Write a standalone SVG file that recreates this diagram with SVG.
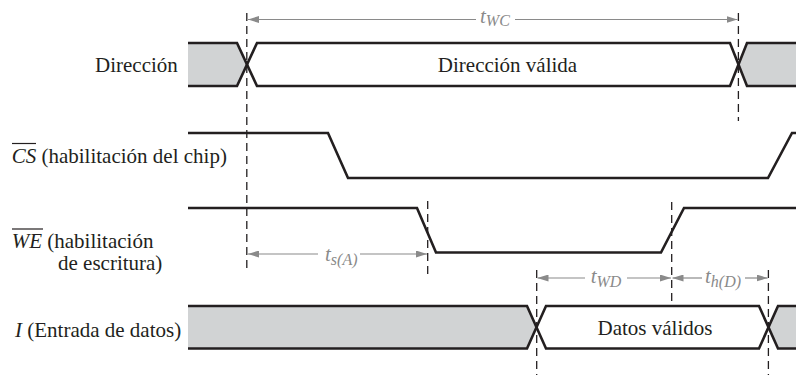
<svg xmlns="http://www.w3.org/2000/svg" width="796" height="375" viewBox="0 0 796 375">
<defs>
<marker id="ah" viewBox="0 0 11 7" refX="11" refY="3.5" markerWidth="11" markerHeight="7" markerUnits="userSpaceOnUse" orient="auto-start-reverse">
<path d="M0,0 L11,3.5 L0,7 Z" fill="#8a8a8a"/>
</marker>
</defs>
<style>
.sig{fill:none;stroke:#231f20;stroke-width:2.6;stroke-linejoin:miter}
.gray{fill:#d1d3d4;stroke:none}
.dash{fill:none;stroke:#231f20;stroke-width:1.3;stroke-dasharray:8 5}
.dim{fill:none;stroke:#8a8a8a;stroke-width:1.2}
.lbl{font-family:"Liberation Serif",serif;font-size:21px;fill:#231f20}
.tm{font-family:"Liberation Serif",serif;font-size:21px;fill:#8a8a8a;font-style:italic}
.sub{font-size:16px}
.ovl{stroke:#231f20;stroke-width:1.2}
</style>
<rect width="796" height="375" fill="#ffffff"/>

<g id="addr">
<polygon class="gray" points="188,43 237,43 247,64.5 237,86 188,86"/>
<polygon class="gray" points="796,43 747,43 738.5,64.5 747,86 796,86"/>
<path class="sig" d="M188,43 H237 L257,86 H730 L747,43 H796"/>
<path class="sig" d="M188,86 H237 L257,43 H730 L747,86 H796"/>
<text class="lbl" x="95" y="72">Dirección</text>
<text class="lbl" x="507.5" y="72" text-anchor="middle">Dirección válida</text>
</g>

<g id="cs">
<path class="sig" d="M188,133 H328 L348,178 H768 L792,133 H796"/>
<text class="lbl" x="11.7" y="163"><tspan font-style="italic">CS</tspan> (habilitación del chip)</text>
<line class="ovl" x1="12" y1="143.5" x2="36" y2="143.5"/>
</g>

<g id="we">
<path class="sig" d="M188,208 H417 L436,252.5 H661 L684,208 H796"/>
<text class="lbl" x="11.7" y="248"><tspan font-style="italic">WE</tspan> (habilitación</text>
<text class="lbl" x="58" y="270">de escritura)</text>
<line class="ovl" x1="12" y1="229" x2="43" y2="229"/>
</g>

<g id="data">
<polygon class="gray" points="188,306 527,306 536.5,327 527,348.5 188,348.5"/>
<polygon class="gray" points="796,306 778,306 768.5,327 778,348.5 796,348.5"/>
<path class="sig" d="M188,306 H527 L546,348.5 H759 L778,306 H796"/>
<path class="sig" d="M188,348.5 H527 L546,306 H759 L778,348.5 H796"/>
<text class="lbl" x="15" y="337"><tspan font-style="italic">I</tspan> (Entrada de datos)</text>
<text class="lbl" x="655" y="335" text-anchor="middle">Datos válidos</text>
</g>

<g id="connectors">
<line class="dash" x1="246.8" y1="13" x2="246.8" y2="269"/>
<line class="dash" x1="738.4" y1="13" x2="738.4" y2="121"/>
<line class="dash" x1="427.7" y1="201" x2="427.7" y2="276"/>
<line class="dash" x1="671.7" y1="202" x2="671.7" y2="306"/>
<line class="dash" x1="536.7" y1="270" x2="536.7" y2="375"/>
<line class="dash" x1="768.4" y1="270" x2="768.4" y2="375"/>

<line class="dim" x1="476" y1="19.5" x2="248" y2="19.5" marker-end="url(#ah)"/>
<line class="dim" x1="515" y1="19.5" x2="737.5" y2="19.5" marker-end="url(#ah)"/>
<text class="tm" x="480" y="23.3">t<tspan class="sub" dy="3">WC</tspan></text>

<line class="dim" x1="318" y1="254" x2="248" y2="254" marker-end="url(#ah)"/>
<line class="dim" x1="360" y1="254" x2="427" y2="254" marker-end="url(#ah)"/>
<text class="tm" x="325" y="260.5">t<tspan class="sub" dy="4.5">s(A)</tspan></text>

<line class="dim" x1="585" y1="278" x2="537.5" y2="278" marker-end="url(#ah)"/>
<line class="dim" x1="627" y1="278" x2="671" y2="278" marker-end="url(#ah)"/>
<text class="tm" x="590.7" y="283.3">t<tspan class="sub" dy="4">WD</tspan></text>

<line class="dim" x1="702" y1="278" x2="672.5" y2="278" marker-end="url(#ah)"/>
<line class="dim" x1="745" y1="278" x2="767.6" y2="278" marker-end="url(#ah)"/>
<text class="tm" x="705" y="283.3">t<tspan class="sub" dy="4">h(D)</tspan></text>
</g>
</svg>
